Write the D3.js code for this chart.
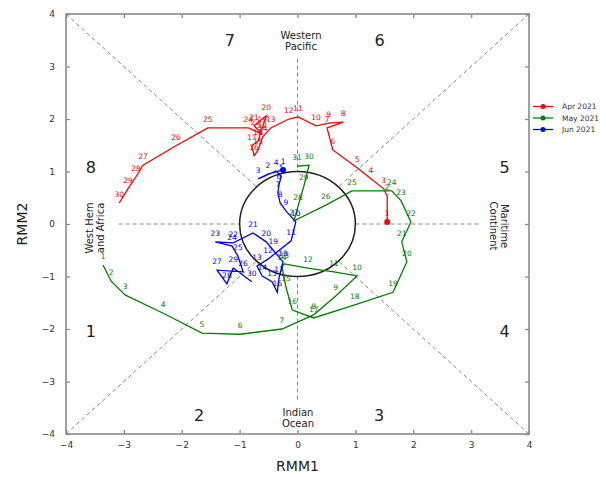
<!DOCTYPE html>
<html><head><meta charset="utf-8">
<script src="https://cdn.jsdelivr.net/npm/d3@7"></script>
<style>body{margin:0;background:#fff}svg{display:block;font-family:"DejaVu Sans",sans-serif}</style>
</head><body><svg id="c" width="606" height="477"></svg>
<script>
// ---- data ----
const aprX = [1.55,1.55,1.49,1.27,1.03,0.61,0.51,0.79,0.54,0.32,0.01,-0.15,-0.46,-0.60,-0.68,-0.75,-0.79,-0.68,-0.61,-0.54,-0.75,-0.61,-0.73,-0.85,-1.55,-2.10,-2.67,-2.79,-2.93,-3.08];
const aprY = [0.04,0.53,0.67,0.86,1.07,1.41,1.83,1.94,1.92,1.87,2.04,2.00,1.83,1.66,1.41,1.30,1.49,1.58,1.83,2.06,1.87,1.71,1.77,1.83,1.83,1.49,1.12,0.90,0.67,0.40];
const mayX = [-3.36,-3.22,-2.98,-2.32,-1.65,-0.99,-0.27,0.28,0.66,1.03,0.63,0.18,-0.23,-0.27,-0.20,-0.09,0.28,0.99,1.65,1.89,1.80,1.96,1.79,1.63,0.94,0.49,-0.06,0.01,0.11,0.20,-0.01];
const mayY = [-0.78,-1.09,-1.35,-1.70,-2.08,-2.10,-2.00,-1.73,-1.37,-0.99,-0.91,-0.84,-0.76,-0.80,-1.20,-1.64,-1.79,-1.54,-1.30,-0.72,-0.34,0.04,0.44,0.63,0.63,0.36,0.06,0.34,0.72,1.12,1.10];
const junX = [-0.25,-0.51,-0.68,-0.37,-0.28,-0.32,-0.34,-0.30,-0.20,-0.03,-0.11,-0.51,-0.70,-0.61,-0.44,-0.35,-0.32,-0.25,-0.42,-0.54,-0.77,-1.11,-1.42,-1.13,-1.03,-0.94,-1.39,-1.22,-1.11,-0.79];
const junY = [1.03,0.95,0.86,1.01,0.91,0.74,0.59,0.40,0.25,0.04,-0.32,-0.67,-0.80,-0.99,-1.10,-1.30,-1.03,-0.72,-0.50,-0.34,-0.17,-0.36,-0.34,-0.42,-0.61,-0.91,-0.88,-1.14,-0.84,-1.10];
const seriesNames = ["Apr 2021","May 2021","Jun 2021"];
const seriesColors = ["#ff0000","#008000","#0000ff"];
const seriesStartMarker = [true,false,true];
const tickValues = [-4,-3,-2,-1,0,1,2,3,4];
const phaseNames = ["1","2","3","4","5","6","7","8"];
const phaseX = [-3.57,-1.70,1.41,3.58,3.58,1.42,-1.17,-3.57];
const phaseY = [-2.04,-3.64,-3.64,-2.04,1.07,3.5,3.5,1.07];

// ---- chart ----
const svg = d3.select("#c");
const x = d3.scaleLinear([-4,4],[66,529]);
const y = d3.scaleLinear([-4,4],[434,14]);
const grey = "#8a8a8a";

// dashed guide lines
const g = svg.append("g").attr("stroke",grey).attr("stroke-width",1).attr("stroke-dasharray","4,3").attr("fill","none");
const r2 = Math.SQRT1_2;
[[-4,-4,-r2,-r2],[4,4,r2,r2],[-4,4,-r2,r2],[4,-4,r2,-r2],
 [-3.09,0,-1,0],[1,0,3.15,0],[0,3.15,0,1],[0,-1,0,-3.35]].forEach(s=>{
  g.append("line").attr("x1",x(s[0])).attr("y1",y(s[1])).attr("x2",x(s[2])).attr("y2",y(s[3]));
});

// unit circle
svg.append("ellipse").attr("cx",x(0)).attr("cy",y(0))
  .attr("rx",x(1)-x(0)).attr("ry",y(0)-y(1))
  .attr("fill","none").attr("stroke","#222").attr("stroke-width",1.5);

// axes
function styleAxis(sel){
  sel.select(".domain").remove();
  sel.selectAll(".tick line").attr("stroke",grey).attr("stroke-width",1.3);
  sel.selectAll(".tick text").attr("fill","#333").attr("font-size",9).attr("font-family","DejaVu Sans");
}
svg.append("g").attr("transform",`translate(0,${y(-4)})`)
  .call(d3.axisBottom(x).tickValues(tickValues).tickSize(-4).tickSizeOuter(0).tickPadding(8)).call(styleAxis);
svg.append("g").attr("transform",`translate(${x(-4)},0)`)
  .call(d3.axisLeft(y).tickValues(tickValues).tickSize(-4).tickSizeOuter(0).tickPadding(11)).call(styleAxis);
svg.append("g").attr("transform",`translate(0,${y(4)})`)
  .call(d3.axisTop(x).tickValues(tickValues).tickSize(-4).tickSizeOuter(0).tickFormat("")).call(styleAxis);
svg.append("g").attr("transform",`translate(${x(4)},0)`)
  .call(d3.axisRight(y).tickValues(tickValues).tickSize(-4).tickSizeOuter(0).tickFormat("")).call(styleAxis);

// frame
svg.append("rect").attr("x",x(-4)).attr("y",y(4)).attr("width",x(4)-x(-4)).attr("height",y(-4)-y(4))
  .attr("fill","none").attr("stroke",grey).attr("stroke-width",1.6);

// phase numbers
phaseNames.forEach((p,i)=>{
  svg.append("text").attr("x",x(phaseX[i])).attr("y",y(phaseY[i])).attr("text-anchor","middle")
    .attr("dominant-baseline","central").attr("font-size",16).attr("fill","#222").text(p);
});

// region labels
function multi(lines,cx,cy,rot){
  const t = svg.append("text").attr("font-size",10).attr("fill","#222").attr("text-anchor","middle")
    .attr("transform",`translate(${cx},${cy}) rotate(${rot})`);
  lines.forEach((l,i)=>t.append("tspan").attr("x",0).attr("y",(i-(lines.length-1)/2)*11.5).attr("dy","0.35em").text(l));
}
multi(["Western","Pacific"],301,41,0);
multi(["Indian","Ocean"],298,418,0);
multi(["West Hem","and Africa"],95,228,-90);
multi(["Maritime","Continent"],499,226,90);

// axis titles
svg.append("text").attr("x",x(0)).attr("y",471).attr("text-anchor","middle").attr("font-size",14).attr("fill","#222").text("RMM1");
svg.append("text").attr("transform",`translate(27,${y(0)}) rotate(-90)`).attr("text-anchor","middle").attr("font-size",14).attr("fill","#222").text("RMM2");

// trajectories
const seriesData = [[aprX,aprY],[mayX,mayY],[junX,junY]].map(([xs,ys])=>xs.map((v,i)=>[v,ys[i]]));
const line = d3.line().x(d=>x(d[0])).y(d=>y(d[1]));
seriesData.forEach((pts,si)=>{
  const col = seriesColors[si];
  const gg = svg.append("g");
  gg.append("path").attr("d",line(pts)).attr("fill","none").attr("stroke",col).attr("stroke-width",1.3);
  gg.selectAll("text").data(pts).join("text")
    .attr("x",d=>x(d[0])).attr("y",d=>y(d[1])-6).attr("text-anchor","middle")
    .attr("font-size",7.5).attr("fill",col).text((d,i)=>i+1);
  if (seriesStartMarker[si])
    gg.append("circle").attr("cx",x(pts[0][0])).attr("cy",y(pts[0][1])).attr("r",3).attr("fill",col);
});

// legend
const lg = svg.append("g").attr("font-size",7.5).attr("fill","#333");
seriesNames.forEach((n,i)=>{
  const yy = 106.5 + i*11.5;
  lg.append("line").attr("x1",533).attr("x2",553).attr("y1",yy).attr("y2",yy).attr("stroke",seriesColors[i]).attr("stroke-width",1.3);
  lg.append("circle").attr("cx",543).attr("cy",yy).attr("r",2.5).attr("fill",seriesColors[i]);
  lg.append("text").attr("x",562).attr("y",yy).attr("dy","0.35em").text(n);
});
</script></body></html>
